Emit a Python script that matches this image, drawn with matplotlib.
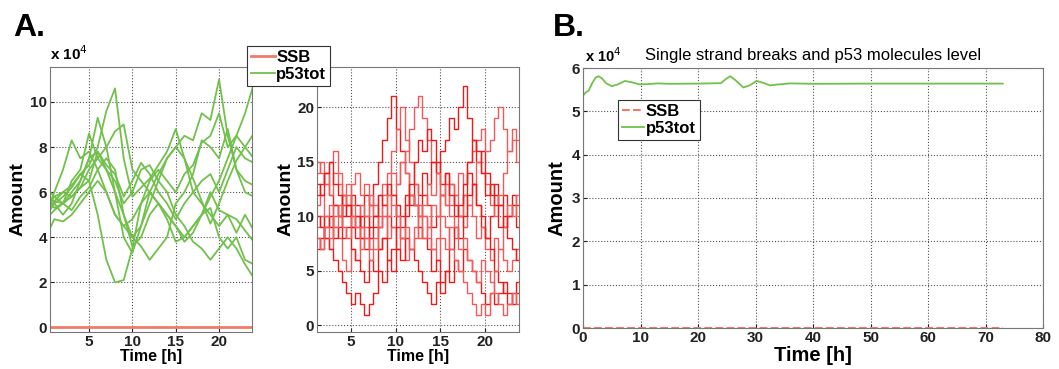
import matplotlib
matplotlib.use('Agg')
import matplotlib.pyplot as plt
import numpy as np

plt.rcParams['font.family'] = ['Liberation Sans', 'DejaVu Sans']

# ---- Panel A (left): p53tot trajectories, values in units of 1e4 ----
p53_hours = [0.5, 1, 2, 3, 4, 5, 6, 7, 8, 9, 10, 11, 12, 13, 14, 15, 16, 17, 18, 19, 20, 21, 22, 23, 24]
p53_runs = [
    [5.5, 5.8, 6.0, 6.3, 6.8, 7.2, 8.0, 9.6, 10.6, 7.5, 5.8, 6.2, 6.6, 7.2, 7.8, 8.8, 7.5, 6.6, 5.6, 4.6, 5.5, 6.5, 7.4, 8.0, 8.6],
    [5.2, 5.5, 5.8, 6.2, 6.8, 6.5, 5.0, 3.0, 2.0, 2.1, 3.5, 5.5, 6.5, 7.0, 6.5, 6.0, 6.8, 7.2, 8.2, 8.5, 9.5, 8.0, 8.5, 9.5, 10.8],
    [5.8, 5.5, 5.0, 5.5, 6.5, 7.5, 7.8, 7.0, 6.0, 5.0, 4.0, 4.5, 5.5, 6.5, 7.5, 8.0, 8.5, 8.3, 9.5, 9.2, 11.0, 8.5, 7.0, 6.5, 6.3],
    [5.5, 6.0, 7.0, 8.3, 7.5, 7.8, 7.0, 6.0, 5.0, 4.5, 4.8, 5.5, 6.0, 5.5, 5.0, 4.5, 4.0, 4.5, 5.0, 5.3, 4.0, 3.5, 4.0, 3.0, 2.8],
    [5.0, 5.2, 5.5, 5.8, 6.2, 7.0, 7.5, 8.0, 8.7, 9.0, 7.0, 6.5, 6.0, 5.5, 4.8, 3.8, 4.0, 4.5, 5.0, 5.8, 6.5, 7.5, 8.5, 8.0, 7.5],
    [4.4, 4.8, 4.7, 5.0, 5.5, 6.0, 6.5, 6.0, 5.0, 4.5, 4.0, 3.6, 3.0, 3.5, 4.0, 5.5, 6.0, 6.8, 8.3, 8.0, 7.5, 8.8, 7.0, 6.0, 5.8],
    [5.7, 5.6, 5.5, 6.0, 6.5, 7.5, 9.3, 8.0, 6.0, 4.0, 3.3, 4.5, 6.0, 6.8, 7.5, 8.0, 7.5, 6.0, 5.5, 5.0, 4.5, 5.0, 4.8, 4.3, 3.8],
    [6.0, 5.8, 5.5, 6.5, 7.0, 8.6, 7.5, 7.0, 6.5, 5.5, 6.0, 7.0, 7.2, 6.5, 6.0, 5.0, 4.5, 3.8, 3.5, 3.0, 3.5, 4.0, 3.5, 2.8, 2.2],
    [5.3, 5.6, 6.0, 5.8, 6.2, 6.5, 7.8, 7.2, 6.8, 5.8, 6.5, 7.3, 6.8, 6.0, 5.5, 4.8, 5.5, 6.0, 6.5, 6.8, 6.0, 7.0, 8.0, 7.5, 7.3],
    [5.6, 5.3, 5.5, 5.2, 5.8, 6.2, 7.0, 7.5, 7.0, 5.0, 3.6, 4.0, 5.0, 5.5, 5.0, 4.5, 3.8, 4.2, 5.0, 6.0, 5.2, 5.0, 4.2, 5.0, 4.3],
]
ssb_flat_hours = [0.5, 24]
ssb_flat_values = [0, 0]

# ---- Panel A (right): SSB counts, half-hour samples from t = 1 h ----
ssb_hours = np.arange(1.0, 24.01, 0.5)
ssb_runs = [
    [12, 13, 14, 12, 11, 10, 12, 11, 9, 8, 10, 12, 11, 13, 15, 17, 19, 21, 18, 16, 14, 12, 11, 10,
     12, 11, 9, 10, 12, 14, 13, 11, 10, 12, 14, 13, 11, 9, 8, 10, 12, 11, 9, 10, 12, 11, 10],
    [9, 10, 8, 7, 9, 8, 6, 5, 7, 6, 8, 9, 11, 10, 12, 13, 12, 14, 13, 15, 16, 18, 20, 21,
     19, 17, 15, 14, 12, 13, 11, 12, 10, 9, 11, 10, 8, 9, 7, 6, 8, 7, 6, 5, 6, 7, 6],
    [8, 7, 9, 10, 8, 9, 11, 10, 12, 11, 9, 10, 8, 9, 7, 8, 10, 9, 11, 10, 12, 11, 13, 12,
     14, 13, 15, 14, 16, 17, 19, 18, 20, 22, 19, 17, 15, 16, 14, 12, 13, 11, 12, 10, 11, 9, 10],
    [14, 15, 13, 12, 14, 13, 11, 12, 10, 9, 11, 10, 12, 11, 9, 10, 8, 9, 7, 8, 6, 7, 9, 8,
     10, 9, 11, 10, 12, 11, 13, 12, 14, 13, 15, 16, 17, 18, 16, 17, 19, 20, 18, 16, 17, 15, 14],
    [10, 9, 8, 7, 6, 5, 4, 3, 2, 3, 2, 1, 2, 3, 5, 4, 6, 5, 7, 6, 8, 7, 6, 5,
     4, 3, 2, 4, 3, 5, 4, 6, 5, 7, 6, 5, 4, 3, 2, 3, 2, 3, 4, 3, 2, 3, 2],
    [15, 14, 13, 15, 16, 14, 12, 13, 11, 10, 9, 8, 7, 8, 10, 12, 14, 16, 18, 20, 17, 15, 13, 11,
     10, 8, 7, 6, 8, 7, 9, 8, 10, 12, 11, 13, 15, 14, 13, 11, 10, 12, 14, 16, 18, 17, 18],
    [7, 8, 10, 9, 11, 10, 8, 9, 7, 6, 5, 4, 6, 5, 7, 8, 6, 7, 9, 8, 10, 12, 11, 9,
     8, 7, 5, 6, 4, 5, 7, 9, 8, 10, 12, 13, 11, 10, 8, 7, 5, 4, 3, 2, 3, 4, 3],
    [11, 12, 10, 11, 9, 10, 12, 11, 13, 14, 12, 13, 11, 10, 9, 11, 10, 12, 13, 15, 14, 12, 11, 10,
     8, 9, 7, 8, 10, 9, 7, 6, 5, 4, 3, 2, 1, 2, 1, 3, 5, 7, 9, 11, 10, 12, 13],
    [13, 12, 14, 15, 13, 12, 10, 11, 9, 10, 8, 7, 9, 10, 12, 11, 13, 12, 10, 9, 11, 13, 15, 17,
     16, 18, 17, 15, 13, 14, 12, 10, 11, 13, 15, 17, 16, 14, 12, 13, 11, 9, 10, 8, 7, 6, 5],
    [8, 7, 9, 8, 10, 11, 9, 8, 10, 9, 7, 8, 6, 7, 9, 10, 12, 11, 10, 8, 9, 7, 8, 10,
     11, 13, 12, 14, 12, 11, 10, 9, 7, 8, 6, 5, 4, 6, 5, 4, 3, 2, 1, 2, 3, 2, 2],
]

# ---- Panel B: deterministic run, p53tot in units of 1e4 ----
det_hours = [0, 0.5, 1.0, 1.6, 2.2, 2.7, 3.3, 4.0, 5.0, 6.0, 7.3, 8.5, 9.9, 11.5, 13, 15, 20,
             24.0, 24.8, 25.6, 26.5, 27.9, 29, 30.2, 31.3, 32.5, 34, 36, 40, 50, 73]
det_p53 = [5.36, 5.44, 5.48, 5.65, 5.78, 5.81, 5.76, 5.65, 5.58, 5.62, 5.70, 5.67, 5.62, 5.63, 5.645, 5.635, 5.64,
           5.65, 5.74, 5.81, 5.72, 5.55, 5.60, 5.70, 5.66, 5.60, 5.62, 5.645, 5.635, 5.64, 5.64]
det_ssb_hours = [0, 73]
det_ssb = [0, 0]

GREEN = '#72c04c'
SALMON = '#f27a66'
REDS = ['#ee1a1a', '#f25a5a']
W, H = 1059, 369


def box(l, t, r, b):
    return [l / W, 1 - b / H, (r - l) / W, (b - t) / H]


def style(ax):
    ax.grid(True, linestyle=':', color='#555555', linewidth=0.8)
    ax.tick_params(direction='in', length=3, labelsize=11, pad=2, colors='#222222')
    for lab in ax.get_xticklabels() + ax.get_yticklabels():
        lab.set_fontweight('bold')
    for sp in ax.spines.values():
        sp.set_color('#777777')


fig = plt.figure(figsize=(W / 100, H / 100), dpi=100)

# A left
ax1 = fig.add_axes(box(50, 67, 252, 332))
ax1.plot(ssb_flat_hours, ssb_flat_values, color=SALMON, lw=2, label='SSB')
for i, run in enumerate(p53_runs):
    ax1.plot(p53_hours, run, color=GREEN, lw=1.3, label='p53tot' if i == 0 else None)
ax1.set_xlim(0.5, 23.8)
ax1.set_ylim(-0.2, 11.55)
ax1.set_xticks([5, 10, 15, 20])
ax1.set_yticks([0, 2, 4, 6, 8, 10])
ax1.set_xlabel('Time [h]', fontsize=11.5, fontweight='bold', labelpad=0)
ax1.set_ylabel('Amount', fontsize=14, fontweight='bold', labelpad=3)
style(ax1)
ax1.text(0.0, 1.015, 'x 10$^{4}$', transform=ax1.transAxes, fontsize=11, fontweight='bold', ha='left', va='bottom')

# A right
ax2 = fig.add_axes(box(317, 67, 519, 332))
for i, run in enumerate(ssb_runs):
    ax2.plot(ssb_hours, run, drawstyle='steps-post', color=REDS[i % 2], lw=1)
ax2.set_xlim(1.2, 23.8)
ax2.set_ylim(-0.6, 23.7)
ax2.set_xticks([5, 10, 15, 20])
ax2.set_yticks([0, 5, 10, 15, 20])
ax2.set_xlabel('Time [h]', fontsize=11.5, fontweight='bold', labelpad=0)
ax2.set_ylabel('Amount', fontsize=14, fontweight='bold', labelpad=2)
style(ax2)

leg = fig.legend(handles=ax1.get_lines()[:2], labels=['SSB', 'p53tot'], loc='upper left',
                 bbox_to_anchor=(247 / W, 1 - 46 / H), fancybox=False, edgecolor='#333333',
                 prop={'weight': 'bold', 'size': 12}, handlelength=1.4, handletextpad=0.1,
                 borderpad=0.25, labelspacing=0.1, borderaxespad=0, framealpha=1)
leg.get_frame().set_linewidth(0.8)

# B
ax3 = fig.add_axes(box(583, 68, 1043, 328))
ax3.plot(det_ssb_hours, det_ssb, color=SALMON, lw=1.5, ls='--', label='SSB')
ax3.plot(det_hours, det_p53, color=GREEN, lw=1.3, label='p53tot')
ax3.set_xlim(0, 80)
ax3.set_ylim(0, 6)
ax3.set_xticks(range(0, 81, 10))
ax3.set_yticks(range(0, 7))
ax3.set_xlabel('Time [h]', fontsize=14.5, fontweight='bold', labelpad=1)
ax3.set_ylabel('Amount', fontsize=14.5, fontweight='bold', labelpad=4)
ax3.set_title('Single strand breaks and p53 molecules level', fontsize=12, pad=6)
style(ax3)
ax3.text(0.005, 1.01, 'x 10$^{4}$', transform=ax3.transAxes, fontsize=10.5, fontweight='bold', ha='left', va='bottom')
leg3 = ax3.legend(loc='upper left', bbox_to_anchor=((618 - 583) / 460, (328 - 100) / 260), fancybox=False,
                  edgecolor='#333333', prop={'weight': 'bold', 'size': 12}, handlelength=1.3,
                  handletextpad=0.1, borderpad=0.25, labelspacing=0.1, borderaxespad=0, framealpha=1)
leg3.get_frame().set_linewidth(0.8)

fig.text(13 / W, 1 - 36 / H, 'A.', fontsize=23, fontweight='bold')
fig.text(553 / W, 1 - 36 / H, 'B.', fontsize=23, fontweight='bold')

fig.savefig('out.png', dpi=100)
